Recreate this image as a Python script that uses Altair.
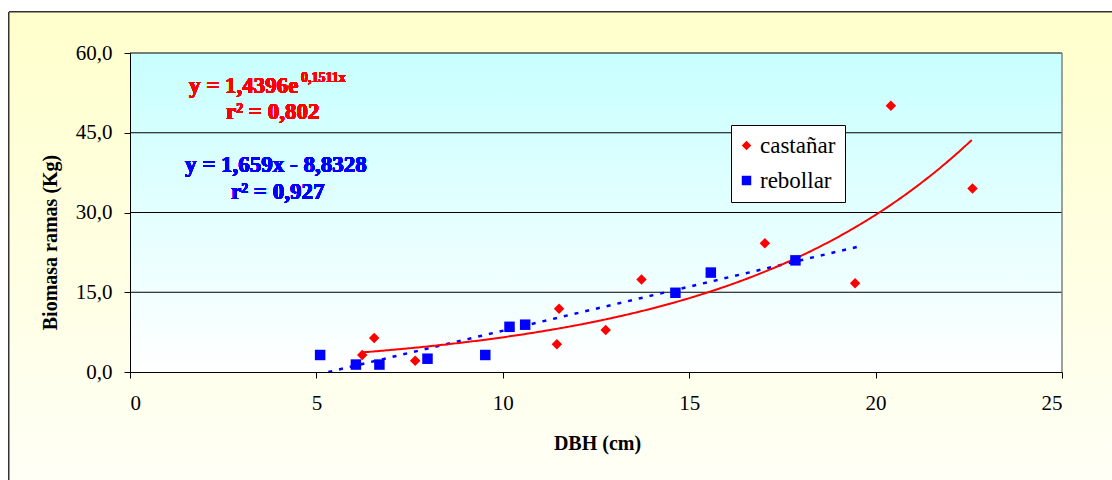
import altair as alt
import pandas as pd

# Castañar: diameter at breast height (cm) and branch biomass (kg)
castanar_dbh = [6.23, 6.55, 7.65, 11.45, 11.51, 12.76, 13.72, 17.03, 19.45, 20.41, 22.60]
castanar_bio = [3.2, 6.4, 2.1, 5.2, 11.9, 7.9, 17.4, 24.2, 16.7, 50.1, 34.5]

# Rebollar: diameter at breast height (cm) and branch biomass (kg)
rebollar_dbh = [5.10, 6.06, 6.69, 7.98, 9.53, 10.18, 10.60, 14.63, 15.58, 17.85]
rebollar_bio = [3.2, 1.4, 1.4, 2.5, 3.2, 8.5, 8.9, 14.9, 18.7, 21.0]

# Fitted trend lines, with the coefficients printed on the chart
exp_a, exp_b = 1.4396, 0.1511
exp_range = [6.23, 22.61]
lin_slope, lin_intercept = 1.659, -8.8328
lin_range = [5.32, 19.65]

x_ticks = [0, 5, 10, 15, 20, 25]
y_ticks = [0, 15, 30, 45, 60]
sites = ["castañar", "rebollar"]

W, H = 932, 319
SERIF = "Liberation Serif"

points = pd.DataFrame({
    "dbh": castanar_dbh + rebollar_dbh,
    "bio": castanar_bio + rebollar_bio,
    "sitio": [sites[0]] * len(castanar_dbh) + [sites[1]] * len(rebollar_dbh),
})

x_axis = alt.Axis(
    values=x_ticks, title="DBH (cm)", grid=False, zindex=1,
    domainColor="black", tickColor="black", tickSize=6,
    labelFont=SERIF, labelFontSize=21, labelColor="black", labelPadding=14,
    titleFont=SERIF, titleFontSize=20, titleFontWeight="bold", titleColor="black",
    titleX=467, titleY=71, titleBaseline="middle", titleAlign="center",
)
y_axis = alt.Axis(
    values=y_ticks, title="Biomasa ramas (Kg)", grid=False, zindex=1,
    labelExpr="replace(format(datum.value, '.1f'), '.', ',')",
    domainColor="black", tickColor="black", tickSize=6,
    labelFont=SERIF, labelFontSize=21, labelColor="black", labelPadding=12,
    titleFont=SERIF, titleFontSize=20, titleFontWeight="bold", titleColor="black",
    titleX=-80, titleY=189, titleAngle=270, titleBaseline="middle", titleAlign="center",
)
x_scale = alt.Scale(domain=[x_ticks[0], x_ticks[-1]], nice=False)
y_scale = alt.Scale(domain=[y_ticks[0], y_ticks[-1]], nice=False)


def X(field="dbh"):
    return alt.X(f"{field}:Q", scale=x_scale, axis=x_axis)


def Y(field="bio"):
    return alt.Y(f"{field}:Q", scale=y_scale, axis=y_axis)


outer_fill = alt.LinearGradient(
    gradient="linear", x1=0, x2=0, y1=0, y2=1,
    stops=[alt.GradientStop(color="#FFFFCC", offset=0),
           alt.GradientStop(color="#FFFFF8", offset=1)],
)
plot_fill = alt.LinearGradient(
    gradient="linear", x1=0, x2=0, y1=0, y2=1,
    stops=[alt.GradientStop(color="#C8FFFF", offset=0),
           alt.GradientStop(color="#FFFFFF", offset=1)],
)

# Chart frame and plot-area backgrounds
frame = alt.Chart(points).mark_rect(
    fill=outer_fill, stroke="#333333", strokeWidth=1
).encode(
    x=alt.value(-121), x2=alt.value(1000), y=alt.value(-41), y2=alt.value(450)
)
plot_bg = alt.Chart(points).mark_rect(fill=plot_fill).encode(
    x=alt.value(0), x2=alt.value(W), y=alt.value(0), y2=alt.value(H)
)

# Horizontal gridlines and right edge of the plot area
grid = alt.Chart(pd.DataFrame({"bio": y_ticks[1:]})).mark_rule(
    color="black", strokeWidth=1
).encode(y=Y())
right_edge = alt.Chart(pd.DataFrame({"dbh": [x_ticks[-1]]})).mark_rule(
    color="#808080", strokeWidth=1.5
).encode(x=X())

# Exponential fit for castañar
exp_line = alt.Chart(
    alt.sequence(exp_range[0], exp_range[1], 0.05, as_="dbh")
).transform_calculate(
    bio=f"{exp_a} * exp({exp_b} * datum.dbh)"
).mark_line(color="#FF0000", strokeWidth=2).encode(x=X(), y=Y())

# Linear fit for rebollar
lin_line = alt.Chart(pd.DataFrame({"dbh": lin_range})).transform_calculate(
    bio=f"{lin_slope} * datum.dbh + ({lin_intercept})"
).mark_line(color="#0000FF", strokeWidth=2.5, strokeDash=[4, 7]).encode(x=X(), y=Y())

legend = alt.Legend(
    title=None, orient="none", legendX=601, legendY=72,
    fillColor="white", strokeColor="black", padding=9,
    labelFont=SERIF, labelFontSize=23, labelColor="black", labelOffset=2,
    symbolSize=90, symbolStrokeWidth=0, symbolOffset=-5, rowPadding=11,
)
scatter = alt.Chart(points).mark_point(filled=True, opacity=1, size=110).encode(
    x=X(), y=Y(),
    color=alt.Color("sitio:N", scale=alt.Scale(domain=sites, range=["#FF0000", "#0000FF"]), legend=legend),
    shape=alt.Shape("sitio:N", scale=alt.Scale(domain=sites, range=["diamond", "square"]), legend=legend),
)


def label(text, x, y, color, size=23):
    return alt.Chart(points).mark_text(
        text=text, font=SERIF, fontSize=size, fontWeight="bold", color=color,
        align="left", baseline="middle",
    ).encode(x=alt.value(x), y=alt.value(y))


labels = [
    label("y = 1,4396e", 59, 33, "#FF0000"),
    label("0,1511x", 171, 25, "#FF0000", size=14),
    label("r² = 0,802", 96, 58.5, "#FF0000"),
    label("y = 1,659x - 8,8328", 55, 111.5, "#0000FF"),
    label("r² = 0,927", 101, 138.5, "#0000FF"),
]

chart = alt.layer(
    frame, plot_bg, grid, right_edge, lin_line, exp_line, scatter, *labels
).properties(
    width=W, height=H,
    padding={"left": 130, "top": 53, "right": 50, "bottom": 108},
    autosize=alt.AutoSizeParams(type="none"),
    background="white",
).configure_view(strokeWidth=0)

chart.save("out.html", embed_options={"renderer": "svg", "actions": False})
